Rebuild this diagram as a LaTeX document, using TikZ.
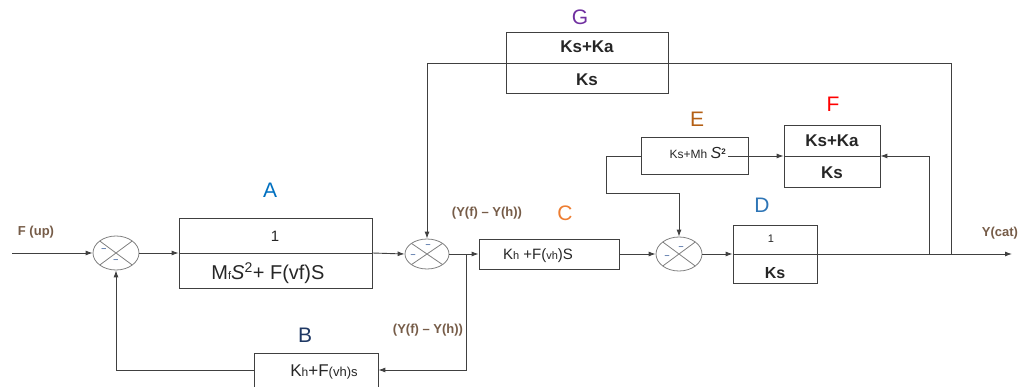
\documentclass[tikz,border=0pt]{standalone}
\usepackage{fontspec}
\setmainfont{Liberation Sans}
\usetikzlibrary{shapes.geometric,arrows.meta}
\definecolor{lineC}{RGB}{64,64,64}
\definecolor{sigC}{RGB}{118,92,72}
\definecolor{lblA}{RGB}{0,112,192}
\definecolor{lblB}{RGB}{31,56,100}
\definecolor{lblC}{RGB}{237,125,49}
\definecolor{lblD}{RGB}{46,117,182}
\definecolor{lblE}{RGB}{180,95,20}
\definecolor{lblF}{RGB}{255,0,0}
\definecolor{lblG}{RGB}{112,48,160}
\definecolor{signC}{RGB}{90,120,170}
\newcommand{\fs}[1]{\fontsize{#1}{#1}\selectfont}
\tikzset{
  block/.style={draw=lineC, line width=0.8pt, inner sep=0pt},
  sum/.style={ellipse, draw=gray, line width=0.8pt, minimum width=46pt,
    minimum height=34pt, inner sep=0pt,
    path picture={\draw[gray,line width=0.8pt]
      (path picture bounding box.north west) -- (path picture bounding box.south east)
      (path picture bounding box.north east) -- (path picture bounding box.south west);}},
  txt/.style={inner sep=0pt, text=black!85},
  letter/.style={inner sep=0pt, font=\fs{21}},
  sig/.style={inner sep=0pt, text=sigC, font=\fs{13}\bfseries},
  sign/.style={inner sep=0pt, text=signC, font=\fs{9}\bfseries},
}
\begin{document}
\begin{tikzpicture}[x=1pt,y=-1pt, line width=0.9pt, draw=lineC,
  >={Latex[length=7pt,width=5pt]}]
  \useasboundingbox (0,0) rectangle (1027,387);
  % Summing points
  \node[sum] (s1) at (116,253) {};
  \node[sum,minimum width=44pt,minimum height=30pt] (s2) at (427,254) {};
  \node[sum] (s3) at (679,254) {};
  \node[sign] (s1p) at (104,250) {–};
  \node[sign] (s1m) at (116,261) {–};
  \node[sign] (s2p) at (413,256) {–};
  \node[sign] (s2m) at (428,246) {–};
  \node[sign] (s3p) at (667,257) {–};
  \node[sign] (s3m) at (681,248) {–};
  % Blocks
  \node[block,minimum width=193pt,minimum height=70pt] (A) at (275.5,253) {};
  \node[block,minimum width=140pt,minimum height=30pt] (C) at (549,254) {};
  \node[block,minimum width=84pt,minimum height=58pt] (D) at (775,254) {};
  \node[block,minimum width=107pt,minimum height=37pt] (E) at (694.5,156) {};
  \node[block,minimum width=96pt,minimum height=62pt] (F) at (832,156) {};
  \node[block,minimum width=162pt,minimum height=61pt] (G) at (587,63) {};
  \node[block,minimum width=124pt,minimum height=34pt] (B) at (316,370) {};
  % Block texts
  \node[txt,font=\fs{15}] (Anum) at (275,236) {1};
  \node[txt,font=\fs{20}] (Aden) at (268,273) {M{\fs{11}f}\textit{S}\textsuperscript{2}+ F(vf)S};
  \node[txt,font=\fs{15}] (Ctxt) at (538,256) {K{\fs{11}h} +F({\fs{11}vh})S};
  \node[txt,font=\fs{11}] (Dnum) at (771,239) {1};
  \node[txt,font=\fs{16}\bfseries] (Dden) at (775,273) {Ks};
  \node[txt,font=\fs{12}] (Etxt) at (698,153) {Ks+Mh {\fs{16}\textit{S}}\textsuperscript{\bfseries 2}};
  \node[txt,font=\fs{17}\bfseries] (Fnum) at (832,141) {Ks+Ka};
  \node[txt,font=\fs{17}\bfseries] (Fden) at (832,173) {Ks};
  \node[txt,font=\fs{17}\bfseries] (Gnum) at (587,47) {Ks+Ka};
  \node[txt,font=\fs{17}\bfseries] (Gden) at (587,80) {Ks};
  \node[txt,font=\fs{17}] (Btxt) at (324,372) {K{\fs{12}h}+F{\fs{13}(vh)s}};
  % Block letters
  \node[letter,text=lblA] (lA) at (270,190) {A};
  \node[letter,text=lblB] (lB) at (305,335) {B};
  \node[letter,text=lblC] (lC) at (565,213) {C};
  \node[letter,text=lblD] (lD) at (762,205) {D};
  \node[letter,text=lblE] (lE) at (697,119) {E};
  \node[letter,text=lblF] (lF) at (833,104) {F};
  \node[letter,text=lblG] (lG) at (580,17) {G};
  % Signal labels
  \node[sig] (lin) at (36,232) {F (up)};
  \node[sig] (ly1) at (487,213) {(Y(f) – Y(h))};
  \node[sig] (ly2) at (428,330) {(Y(f) – Y(h))};
  \node[sig] (lout) at (1000,233) {Y(cat)};
  % Connectors
  \coordinate (in) at (12,253);
  \coordinate (out) at (1012,254);
  \coordinate (b1) at (466,254);
  \coordinate (t1) at (929,254);
  \coordinate (t2) at (951,254);
  \coordinate (e1) at (606,193);
  \draw[->] (in) -- (s1.west);
  \draw[->] (s1.east) -- (A.west);
  \draw (A.west) -- (A.east);
  \draw[->] (A.east) -- (s2.west);
  \draw (s2.east) -- (b1);
  \draw[->] (b1) -- (C.west);
  \draw[->] (b1) |- (B.east);
  \draw[->] (B.west) -| (s1.south);
  \draw[->] (C.east) -- (s3.west);
  \draw[->] (s3.east) -- (D.west);
  \draw[->] (D.west) -- (out);
  \draw[->] (t1) |- (F.east);
  \draw (F.west) -- (F.east);
  \draw[->] ([xshift=-20pt]E.east) -- (F.west);
  \draw[->] (E.west) -| (e1) -| (s3.north);
  \draw (t2) |- (G.east);
  \draw (G.east) -- (G.west);
  \draw[->] (G.west) -| (s2.north);
\end{tikzpicture}
\end{document}
